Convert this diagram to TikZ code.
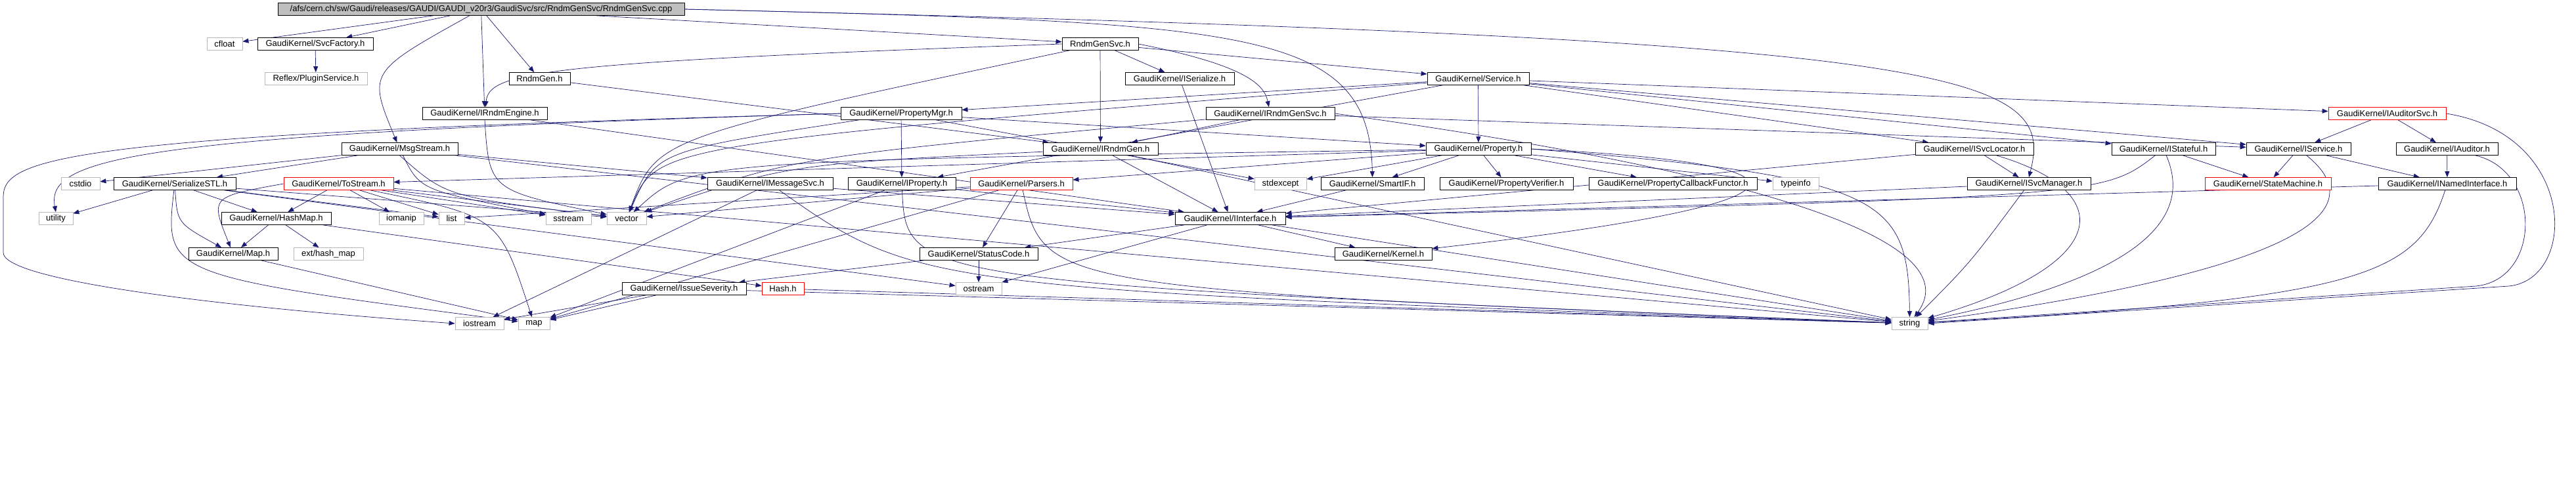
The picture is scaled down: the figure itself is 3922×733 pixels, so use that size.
\documentclass[tikz,border=0pt]{standalone}
\usepackage{fontspec}
\setmainfont{Liberation Sans}
\usetikzlibrary{arrows.meta,backgrounds}
\definecolor{depblue}{RGB}{25,25,112}
\newcommand{\gkfont}{\fontsize{13}{15}\selectfont}
\tikzset{
  hdr/.style={draw=black, fill=white, line width=0.8pt, inner sep=0pt, minimum height=19, font=\gkfont},
  syshdr/.style={hdr, draw=black!28},
  redhdr/.style={hdr, draw=red},
  rootfile/.style={hdr, fill=black!25},
  dep/.style={draw=depblue, line width=0.7pt, -{Triangle[length=9pt,width=7pt]}},
}
\begin{document}
\begin{tikzpicture}[x=1pt, y=-1pt]
\useasboundingbox (0,0) rectangle (3922,733);

% files, row by row
\node[rootfile, minimum width=619] (root) at (732.5,14) {/afs/cern.ch/sw/Gaudi/releases/GAUDI/GAUDI\_v20r3/GaudiSvc/src/RndmGenSvc/RndmGenSvc.cpp};

\node[syshdr, minimum width=54] (cfloat) at (342,67) {cfloat};
\node[hdr, minimum width=176] (svcfactory) at (480,67) {GaudiKernel/SvcFactory.h};
\node[hdr, minimum width=116] (rndmgensvch) at (1675,67) {RndmGenSvc.h};

\node[syshdr, minimum width=156] (pluginsvc) at (481,120) {Reflex/PluginService.h};
\node[hdr, minimum width=93] (rndmgen) at (821.5,120) {RndmGen.h};
\node[hdr, minimum width=166] (iserialize) at (1796,120) {GaudiKernel/ISerialize.h};
\node[hdr, minimum width=155] (service) at (2250.5,120) {GaudiKernel/Service.h};

\node[hdr, minimum width=190] (irndmengine) at (738,173) {GaudiKernel/IRndmEngine.h};
\node[hdr, minimum width=184] (propertymgr) at (1372,173) {GaudiKernel/PropertyMgr.h};
\node[hdr, minimum width=196] (irndmgensvc) at (1934,173) {GaudiKernel/IRndmGenSvc.h};
\node[redhdr, minimum width=179] (iauditorsvc) at (3634.5,173) {GaudiKernel/IAuditorSvc.h};

\node[hdr, minimum width=177] (msgstream) at (608.5,227) {GaudiKernel/MsgStream.h};
\node[hdr, minimum width=175] (irndmgen) at (1675.5,227) {GaudiKernel/IRndmGen.h};
\node[hdr, minimum width=160] (property) at (2251,227) {GaudiKernel/Property.h};
\node[hdr, minimum width=180] (isvclocator) at (3006,227) {GaudiKernel/ISvcLocator.h};
\node[hdr, minimum width=158] (istateful) at (3294,227) {GaudiKernel/IStateful.h};
\node[hdr, minimum width=159] (iservice) at (3499.5,227) {GaudiKernel/IService.h};
\node[hdr, minimum width=155] (iauditor) at (3725.5,227) {GaudiKernel/IAuditor.h};

\node[syshdr, minimum width=59] (cstdio) at (122.5,280) {cstdio};
\node[hdr, minimum width=186] (serializestl) at (266,280) {GaudiKernel/SerializeSTL.h};
\node[redhdr, minimum width=167] (tostream) at (515.5,280) {GaudiKernel/ToStream.h};
\node[hdr, minimum width=191] (imessagesvc) at (1172.5,280) {GaudiKernel/IMessageSvc.h};
\node[hdr, minimum width=164] (iproperty) at (1373,280) {GaudiKernel/IProperty.h};
\node[redhdr, minimum width=156] (parsers) at (1555,280) {GaudiKernel/Parsers.h};
\node[syshdr, minimum width=79] (stdexcept) at (1949.5,280) {stdexcept};
\node[hdr, minimum width=157] (smartif) at (2089.5,280) {GaudiKernel/SmartIF.h};
\node[hdr, minimum width=203] (propverifier) at (2293.5,280) {GaudiKernel/PropertyVerifier.h};
\node[hdr, minimum width=256] (propcallback) at (2547,280) {GaudiKernel/PropertyCallbackFunctor.h};
\node[syshdr, minimum width=70] (typeinfo) at (2734,280) {typeinfo};
\node[hdr, minimum width=188] (isvcmanager) at (3089,280) {GaudiKernel/ISvcManager.h};
\node[redhdr, minimum width=192] (statemachine) at (3453,280) {GaudiKernel/StateMachine.h};
\node[hdr, minimum width=210] (inamedinterface) at (3726,280) {GaudiKernel/INamedInterface.h};

\node[syshdr, minimum width=52] (utility) at (85,333) {utility};
\node[hdr, minimum width=167] (hashmap) at (420.5,333) {GaudiKernel/HashMap.h};
\node[syshdr, minimum width=68] (iomanip) at (611,333) {iomanip};
\node[syshdr, minimum width=39] (list) at (687.5,333) {list};
\node[syshdr, minimum width=69] (sstream) at (865.5,333) {sstream};
\node[syshdr, minimum width=60] (vector) at (954,333) {vector};
\node[hdr, minimum width=168] (iinterface) at (1873,333) {GaudiKernel/IInterface.h};

\node[hdr, minimum width=136] (maph) at (355,387) {GaudiKernel/Map.h};
\node[syshdr, minimum width=106] (hashmapext) at (500,387) {ext/hash\_map};
\node[hdr, minimum width=180] (statuscode) at (1490,387) {GaudiKernel/StatusCode.h};
\node[hdr, minimum width=148] (kernel) at (2106,387) {GaudiKernel/Kernel.h};

\node[hdr, minimum width=189] (issueseverity) at (1041.5,440) {GaudiKernel/IssueSeverity.h};
\node[redhdr, minimum width=64] (hash) at (1192,440) {Hash.h};
\node[syshdr, minimum width=70] (ostream) at (1490,440) {ostream};

\node[syshdr, minimum width=74] (iostream) at (730,493) {iostream};
\node[syshdr, minimum width=48] (map) at (813,493) {map};
\node[syshdr, minimum width=55] (string) at (2907.5,493) {string};

\begin{pgfonlayer}{background}
% includes of the source file
\draw[dep] (root) -- (cfloat);
\draw[dep] (root) -- (svcfactory);
\draw[dep] (root) .. controls (560,110) .. (msgstream);
\draw[dep] (root) -- (irndmengine);
\draw[dep] (root) -- (rndmgen);
\draw[dep] (root) -- (rndmgensvch);
\draw[dep] (root.east) .. controls (1900,35) and (2085,40) .. (smartif.north);
\draw[dep] (root.east) .. controls (3000,60) and (3130,110) .. (isvcmanager.north);

% second level
\draw[dep] (svcfactory) -- (pluginsvc);
\draw[dep] (rndmgen) -- (irndmgen);
\draw[dep] (rndmgensvch) -- (irndmgen);
\draw[dep] (rndmgensvch) -- (iserialize);
\draw[dep] (rndmgensvch.east) .. controls (1900,100) and (1925,130) .. (irndmgensvc);
\draw[dep] (rndmgensvch) -- (service);
\draw[dep] (rndmgensvch.west) .. controls (820,95) and (745,110) .. (irndmengine);
\draw[dep] (rndmgensvch) .. controls (1000,210) .. (vector);
\draw[dep] (iserialize) -- (iinterface);

% service and its friends
\draw[dep] (service) -- (propertymgr);
\draw[dep] (service) -- (property);
\draw[dep] (service) -- (isvclocator);
\draw[dep] (service) -- (istateful);
\draw[dep] (service) -- (iservice);
\draw[dep] (service) -- (iauditorsvc);
\draw[dep] (service) -- (iproperty);
\draw[dep] (service) .. controls (1000,220) .. (vector);

\draw[dep] (irndmengine.south) .. controls (745,290) .. (vector);
\draw[dep] (irndmengine) -- (iinterface);

\draw[dep] (propertymgr) -- (property);
\draw[dep] (propertymgr) -- (iproperty);
\draw[dep] (propertymgr) .. controls (1000,230) .. (vector);
\draw[dep] (propertymgr) -- (stdexcept);
\draw[dep] (propertymgr.west) .. controls (200,205) and (70,240) .. (utility.north);
\draw[dep] (propertymgr.west) .. controls (100,205) and (5,240) .. (5,300)
  -- (5,385) .. controls (5,425) and (300,465) .. (iostream.west);

\draw[dep] (irndmgensvc) -- (irndmgen);
\draw[dep] (irndmgensvc) -- (iservice);
\draw[dep] (irndmgensvc) .. controls (1200,240) .. (vector);
\draw[dep] (irndmgensvc.east) .. controls (2950,300) and (2960,420) .. (string);

\draw[dep] (iauditorsvc) -- (iservice);
\draw[dep] (iauditorsvc) -- (iauditor);
\draw[dep] (iauditorsvc.east) .. controls (3925,205) and (3925,425) .. (3820,436) -- (string.east);

\draw[dep] (msgstream) -- (cstdio);
\draw[dep] (msgstream) -- (serializestl);
\draw[dep] (msgstream) -- (imessagesvc);
\draw[dep] (msgstream) .. controls (640,290) .. (sstream);
\draw[dep] (msgstream.south) .. controls (680,300) .. (vector);
\draw[dep] (msgstream) -- (string);

\draw[dep] (irndmgen) -- (iinterface);
\draw[dep] (irndmgen) .. controls (1200,250) .. (vector);
\draw[dep] (irndmgen) -- (string);

\draw[dep] (property) -- (smartif);
\draw[dep] (property) -- (propverifier);
\draw[dep] (property) -- (propcallback);
\draw[dep] (property) -- (typeinfo);
\draw[dep] (property) -- (stdexcept);
\draw[dep] (property) -- (tostream);
\draw[dep] (property) -- (parsers);
\draw[dep] (property) .. controls (1050,245) .. (vector);
\draw[dep] (property.east) .. controls (2800,250) and (2790,310) .. (kernel);
\draw[dep] (property.east) .. controls (2870,270) and (2905,300) .. (string.north);

\draw[dep] (isvclocator) -- (isvcmanager);
\draw[dep] (isvclocator) -- (iinterface);
\draw[dep] (isvclocator) .. controls (3220,290) and (3225,400) .. (string);

\draw[dep] (istateful) -- (statemachine);
\draw[dep] (istateful) .. controls (3200,300) .. (iinterface);
\draw[dep] (istateful) .. controls (3325,300) and (3325,410) .. (string);

\draw[dep] (iservice) -- (statemachine);
\draw[dep] (iservice) -- (inamedinterface);
\draw[dep] (iservice) .. controls (3590,300) and (3590,400) .. (string);

\draw[dep] (iauditor) -- (inamedinterface);
\draw[dep] (iauditor) .. controls (3870,260) and (3870,425) .. (3770,436) -- (string);

% third level
\draw[dep] (serializestl) -- (utility);
\draw[dep] (serializestl) -- (hashmap);
\draw[dep] (serializestl) .. controls (270,340) .. (maph);
\draw[dep] (serializestl) -- (list);
\draw[dep] (serializestl) -- (vector);
\draw[dep] (serializestl) .. controls (250,420) .. (map);
\draw[dep] (serializestl) -- (ostream);

\draw[dep] (tostream) -- (iomanip);
\draw[dep] (tostream) -- (list);
\draw[dep] (tostream) -- (sstream);
\draw[dep] (tostream) -- (vector);
\draw[dep] (tostream) .. controls (760,330) .. (map);
\draw[dep] (tostream) -- (hashmap);
\draw[dep] (tostream.west) .. controls (320,300) .. (maph);
\draw[dep] (tostream) -- (string);

\draw[dep] (imessagesvc) -- (iinterface);
\draw[dep] (imessagesvc) -- (iostream);
\draw[dep] (imessagesvc) .. controls (1400,440) .. (string);

\draw[dep] (iproperty) -- (iinterface);
\draw[dep] (iproperty) .. controls (1380,430) .. (string);
\draw[dep] (iproperty) -- (map);

\draw[dep] (parsers) -- (statuscode);
\draw[dep] (parsers) .. controls (1590,440) .. (string);
\draw[dep] (parsers) -- (list);
\draw[dep] (parsers) -- (vector);
\draw[dep] (parsers) -- (map);

\draw[dep] (smartif) -- (iinterface);
\draw[dep] (isvcmanager) -- (iinterface);
\draw[dep] (isvcmanager) .. controls (3000,400) .. (string);
\draw[dep] (inamedinterface) -- (iinterface);
\draw[dep] (inamedinterface) .. controls (3680,420) and (3600,455) .. (string);

\draw[dep] (hashmap) -- (maph);
\draw[dep] (hashmap) -- (hashmapext);
\draw[dep] (hashmap) -- (hash);
\draw[dep] (maph) -- (map);

\draw[dep] (iinterface) -- (statuscode);
\draw[dep] (iinterface) -- (ostream);
\draw[dep] (iinterface) -- (kernel);
\draw[dep] (iinterface) -- (string);

\draw[dep] (statuscode) -- (ostream);
\draw[dep] (statuscode) -- (issueseverity);
\draw[dep] (issueseverity) -- (iostream);
\draw[dep] (issueseverity) -- (map);
\draw[dep] (issueseverity) -- (string);
\draw[dep] (hash) -- (string);
\end{pgfonlayer}
\end{tikzpicture}
\end{document}
